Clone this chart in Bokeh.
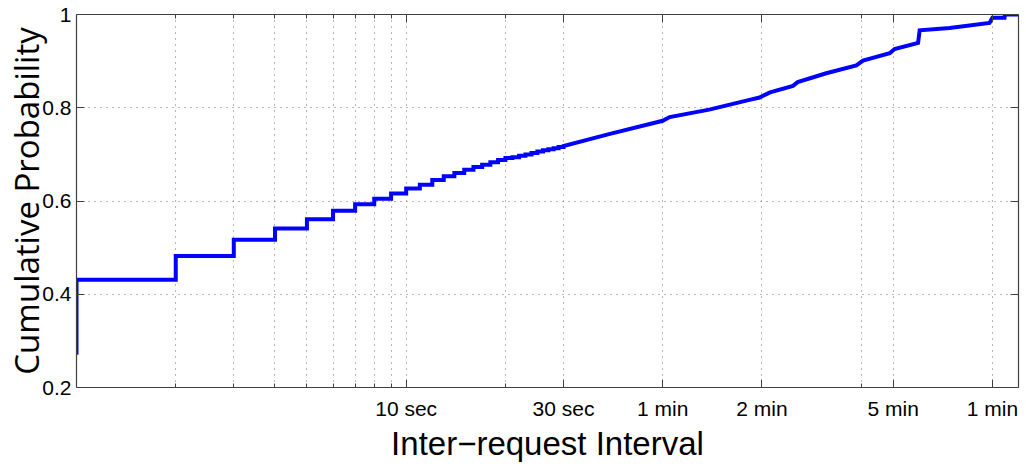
from bokeh.plotting import figure
from bokeh.models import (Range1d, FixedTicker, LogAxis, LinearAxis,
                          CustomJSTickFormatter)
from bokeh.embed import file_html
from bokeh.resources import INLINE

# ---- data ----
# stepped part of the CDF: interval in seconds, cumulative probability after the step
step_t = [1, 1, 2, 3, 4, 5, 6, 7, 8, 9, 10, 11, 12, 13, 14, 15, 16, 17, 18, 19,
          20, 21, 22, 23, 24, 25, 26, 27, 28, 29, 30]
step_p = [0.27, 0.431, 0.482, 0.517, 0.541, 0.561, 0.579, 0.593, 0.605, 0.616,
          0.627, 0.635, 0.645, 0.653, 0.660, 0.667, 0.673, 0.678, 0.683, 0.688,
          0.692, 0.694, 0.697, 0.700, 0.703, 0.706, 0.709, 0.711, 0.713, 0.716,
          0.718]
# smoother upper part
smooth_t = [30, 41.5, 60, 63, 83, 110, 118, 127, 149, 154, 188, 232, 243, 293,
            303, 357, 361, 445, 588, 600, 653, 655, 720]
smooth_p = [0.718, 0.744, 0.772, 0.780, 0.796, 0.817, 0.822, 0.833, 0.847,
            0.855, 0.874, 0.891, 0.901, 0.917, 0.926, 0.939, 0.966, 0.971,
            0.982, 0.993, 0.993, 1.0, 1.0]

x_major_ticks = [10, 30, 60, 120, 300, 600]
x_major_labels = ["10 sec", "30 sec", "1 min", "2 min", "5 min", "1 min"]
x_minor_ticks = [2, 3, 4, 5, 6, 7, 8, 9, 20, 240]
y_ticks = [0.2, 0.4, 0.6, 0.8, 1.0]
y_labels = ["0.2", "0.4", "0.6", "0.8", "1"]

# ---- build the stair path from the step data ----
xs, ys = [step_t[0]], [step_p[0]]
for i in range(1, len(step_t)):
    xs.append(step_t[i]); ys.append(step_p[i - 1])
    xs.append(step_t[i]); ys.append(step_p[i])
for t, v in zip(smooth_t[1:], smooth_p[1:]):
    xs.append(t); ys.append(v)

TICK_FONT = "Liberation Sans"
AXIS_COLOR = "#404040"

p = figure(width=1026, height=468, x_axis_type="log",
           x_range=Range1d(1, 720), y_range=Range1d(0.2, 1.0),
           output_backend="svg", toolbar_location=None,
           min_border_left=76, min_border_right=8,
           min_border_top=14, min_border_bottom=81)
p.outline_line_color = None
p.background_fill_color = "white"
p.border_fill_color = "white"

p.line(xs, ys, line_color="#0000FF", line_width=4, line_join="miter")

xticker = FixedTicker(ticks=x_major_ticks, minor_ticks=x_minor_ticks)
yticker = FixedTicker(ticks=y_ticks, minor_ticks=[])

xa = p.xaxis[0]
xa.ticker = xticker
xa.major_label_overrides = {t: l for t, l in zip(x_major_ticks, x_major_labels)}
ya = p.yaxis[0]
ya.ticker = yticker
ya.major_label_overrides = {t: l for t, l in zip(y_ticks, y_labels)}

for ax in (xa, ya):
    ax.axis_line_color = AXIS_COLOR
    ax.axis_line_width = 1.2
    ax.major_tick_line_color = AXIS_COLOR
    ax.minor_tick_line_color = AXIS_COLOR
    ax.major_tick_in = 8
    ax.major_tick_out = 0
    ax.minor_tick_in = 4
    ax.minor_tick_out = 0
    ax.major_label_text_font = TICK_FONT
    ax.major_label_text_font_size = "21px"
    ax.major_label_text_color = "black"
    ax.axis_label_text_font_style = "normal"
    ax.axis_label_text_color = "black"

xa.major_label_standoff = 9
xa.axis_label = "Inter\u2212request Interval"
xa.axis_label_text_font = "Liberation Sans"
xa.axis_label_text_font_size = "33px"
xa.axis_label_standoff = 2

ya.major_label_standoff = 5
ya.axis_label = "Cumulative Probability"
ya.axis_label_text_font = "Open Sans"
ya.axis_label_text_font_size = "33px"
ya.axis_label_standoff = -10

blank = CustomJSTickFormatter(code="return ''")
top = LogAxis(ticker=xticker, formatter=blank)
right = LinearAxis(ticker=yticker, formatter=blank)
for ax in (top, right):
    ax.axis_line_color = AXIS_COLOR
    ax.axis_line_width = 1.2
    ax.major_tick_line_color = AXIS_COLOR
    ax.minor_tick_line_color = AXIS_COLOR
    ax.major_tick_in = 8
    ax.major_tick_out = 0
    ax.minor_tick_in = 4
    ax.minor_tick_out = 0
    ax.major_label_text_font_size = "0px"
    ax.major_label_standoff = 0
p.add_layout(top, "above")
p.add_layout(right, "right")

for g in (p.xgrid[0], p.ygrid[0]):
    g.grid_line_color = "#707070"
    g.grid_line_dash = "1 5"
    g.grid_line_width = 1
p.xgrid[0].ticker = xticker
p.ygrid[0].ticker = yticker
p.xgrid[0].minor_grid_line_color = "#707070"
p.xgrid[0].minor_grid_line_dash = "1 5"
p.xgrid[0].minor_grid_line_width = 1

open("out.html", "w").write(file_html(p, INLINE))
